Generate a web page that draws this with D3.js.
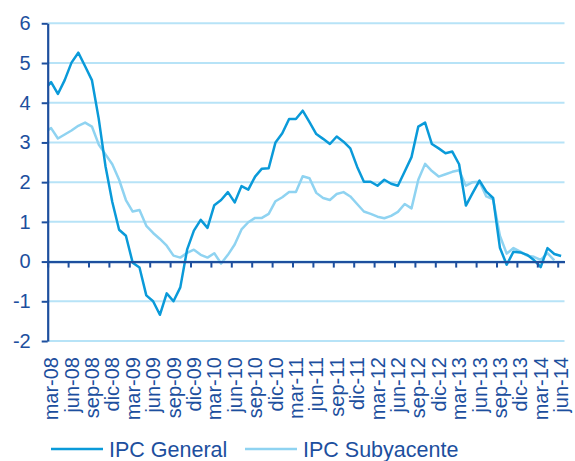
<head>
  <meta charset="utf-8">
  <script src="https://d3js.org/d3.v7.min.js"></script>
</head>
<style>
  body { margin: 0; background: #fff; }
  text { font-family: "Liberation Sans", Arial, sans-serif; }
</style>
<body>
  <svg id="chart"></svg>
</body>
<script>
  var w = 575;
  var h = 461;
  var margin = {top: 23.3, right: 10.5, bottom: 120, left: 47.7};

  // tick labels, one every 3 months
  var tickLabels = ["mar-08","jun-08","sep-08","dic-08","mar-09","jun-09","sep-09","dic-09",
    "mar-10","jun-10","sep-10","dic-10","mar-11","jun-11","sep-11","dic-11",
    "mar-12","jun-12","sep-12","dic-12","mar-13","jun-13","sep-13","dic-13",
    "mar-14","jun-14"];
  var nMonths = 76; // mar-08 .. jun-14 shown on the axis

  // series start at feb-08 (that first point is cut by the axis)
  var ipcGeneral = [4.33, 4.52, 4.22, 4.57, 5.01, 5.26, 4.92, 4.57, 3.6, 2.4, 1.5,
    0.8, 0.65, -0.03, -0.15, -0.85, -1.0, -1.34, -0.8, -1.0, -0.65, 0.3, 0.78,
    1.05, 0.85, 1.42, 1.55, 1.75, 1.49, 1.9, 1.81, 2.14, 2.34, 2.35, 3.0,
    3.23, 3.59, 3.59, 3.8, 3.51, 3.21, 3.09, 2.96, 3.15, 3.02, 2.85, 2.39,
    2.01, 2.01, 1.91, 2.06, 1.96, 1.91, 2.27, 2.63, 3.4, 3.5, 2.96, 2.85,
    2.73, 2.77, 2.45, 1.41, 1.73, 2.04, 1.76, 1.6, 0.35, -0.08, 0.25, 0.23,
    0.17, 0.04, -0.14, 0.34, 0.19, 0.14];
  var ipcSubyacente = [3.25, 3.36, 3.1, 3.2, 3.3, 3.42, 3.5, 3.4, 2.95, 2.7, 2.45,
    2.06, 1.55, 1.26, 1.3, 0.9, 0.72, 0.57, 0.4, 0.15, 0.1, 0.22, 0.3,
    0.17, 0.1, 0.21, -0.05, 0.17, 0.43, 0.81, 0.99, 1.1, 1.1, 1.2, 1.52,
    1.62, 1.75, 1.75, 2.15, 2.1, 1.73, 1.6, 1.55, 1.7, 1.75, 1.64, 1.45,
    1.26, 1.2, 1.13, 1.09, 1.15, 1.25, 1.45, 1.34, 2.06, 2.46, 2.28, 2.14,
    2.2, 2.26, 2.3, 1.91, 2.0, 2.01, 1.64, 1.57, 0.65, 0.2, 0.34, 0.25,
    0.15, 0.12, 0.04, 0.21, 0.03];
  var seriesNames = ["IPC General", "IPC Subyacente"];
  var seriesColors = ["#0a9ad9", "#8fd3f1"];

  var yTicks = d3.range(-2, 7);
  var axisColor = "#1d4f9e";
  var gridColor = "#b7e3f7";

  var plot_w = w - margin.left - margin.right;
  var plot_h = h - margin.top - margin.bottom;

  // month index scale, 0 = start of mar-08
  var xScale = d3.scaleLinear().domain([0, nMonths]).range([0, plot_w]);
  var yScale = d3.scaleLinear().domain([-2, 6]).range([plot_h, 0]);

  var svg = d3.select("svg#chart")
      .attr("width", w)
      .attr("height", h);
  var g = svg.append("g")
      .attr("transform", "translate(" + margin.left + "," + margin.top + ")");

  g.append("clipPath").attr("id", "clip")
    .append("rect")
      .attr("x", 0).attr("y", -10)
      .attr("width", plot_w).attr("height", plot_h + 20);

  // gridlines
  g.append("g").selectAll("line")
      .data(yTicks)
      .enter().append("line")
      .attr("x1", 0).attr("x2", plot_w)
      .attr("y1", function(d){ return yScale(d); })
      .attr("y2", function(d){ return yScale(d); })
      .attr("stroke", gridColor)
      .attr("stroke-width", 2);

  // lines
  var line = d3.line()
      .x(function(d, i){ return xScale(i - 1 + 0.5); })
      .y(function(d){ return yScale(d); });

  [ipcSubyacente, ipcGeneral].forEach(function(series, k){
    g.append("path")
      .datum(series)
      .attr("clip-path", "url(#clip)")
      .attr("fill", "none")
      .attr("stroke", k == 0 ? seriesColors[1] : seriesColors[0])
      .attr("stroke-width", 2.5)
      .attr("stroke-linejoin", "round")
      .attr("d", line);
  });

  // x axis at zero, ticks every 3 months
  var xAxis = d3.axisBottom(xScale)
      .tickValues(d3.range(0, nMonths, 3))
      .tickFormat("")
      .tickSize(6)
      .tickSizeOuter(0);
  var gx = g.append("g")
      .attr("transform", "translate(0," + yScale(0) + ")")
      .call(xAxis);
  gx.select(".domain").attr("stroke", axisColor).attr("stroke-width", 2.2);
  gx.selectAll(".tick line").attr("stroke", axisColor).attr("stroke-width", 2);

  // y axis
  var yAxis = d3.axisLeft(yScale)
      .tickValues(yTicks)
      .tickFormat(function(d){ return String(d); })
      .tickSize(6)
      .tickSizeOuter(0)
      .tickPadding(11);
  var gy = g.append("g").call(yAxis);
  gy.select(".domain").attr("stroke", axisColor).attr("stroke-width", 2.2);
  gy.selectAll(".tick line").attr("stroke", axisColor).attr("stroke-width", 2);
  gy.selectAll("text")
      .attr("fill", axisColor)
      .style("font-size", "20px");

  // month labels at the bottom
  g.append("g")
      .attr("transform", "translate(0," + plot_h + ")")
      .selectAll("text")
      .data(tickLabels)
      .enter().append("text")
      .attr("transform", function(d, i){
        return "translate(" + xScale(i * 3 + 0.5) + ",16) rotate(-90)";
      })
      .attr("dy", "0.35em")
      .attr("text-anchor", "end")
      .attr("fill", axisColor)
      .style("font-size", "20px")
      .text(function(d){ return d; });

  // legend
  var legendX = [51, 245];
  var legend = svg.append("g");
  seriesNames.forEach(function(name, i){
    legend.append("line")
      .attr("x1", legendX[i]).attr("x2", legendX[i] + 52)
      .attr("y1", 449).attr("y2", 449)
      .attr("stroke", seriesColors[i])
      .attr("stroke-width", 2.5);
    legend.append("text")
      .attr("x", legendX[i] + 58)
      .attr("y", 456.5)
      .attr("fill", axisColor)
      .style("font-size", "21.5px")
      .text(name);
  });
</script>
